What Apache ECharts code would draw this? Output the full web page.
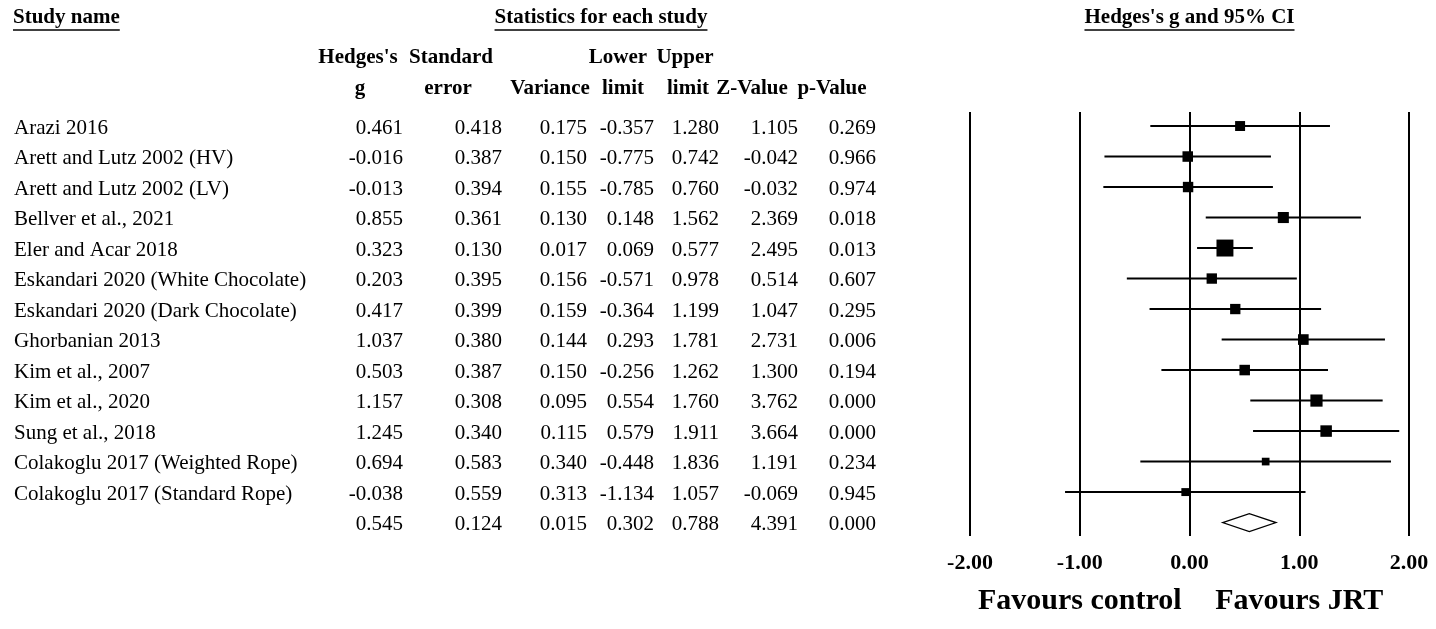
<!DOCTYPE html>
<html>
<head>
<meta charset="utf-8">
<script src="https://cdn.jsdelivr.net/npm/echarts@6/dist/echarts.min.js"></script>
<style>
html,body{margin:0;padding:0;background:#fff;}
#chart{width:1436px;height:629px;}
</style>
</head>
<body>
<div id="chart"></div>
<script>
// ---------------- DATA ----------------
const studyNames = [
  'Arazi 2016',
  'Arett and Lutz 2002 (HV)',
  'Arett and Lutz 2002 (LV)',
  'Bellver et al., 2021',
  'Eler and Acar 2018',
  'Eskandari 2020 (White Chocolate)',
  'Eskandari 2020 (Dark Chocolate)',
  'Ghorbanian 2013',
  'Kim et al., 2007',
  'Kim et al., 2020',
  'Sung et al., 2018',
  'Colakoglu 2017 (Weighted Rope)',
  'Colakoglu 2017 (Standard Rope)'
];
const hedgesG      = [0.461, -0.016, -0.013, 0.855, 0.323, 0.203, 0.417, 1.037, 0.503, 1.157, 1.245, 0.694, -0.038];
const standardError= [0.418, 0.387, 0.394, 0.361, 0.130, 0.395, 0.399, 0.380, 0.387, 0.308, 0.340, 0.583, 0.559];
const variance     = [0.175, 0.150, 0.155, 0.130, 0.017, 0.156, 0.159, 0.144, 0.150, 0.095, 0.115, 0.340, 0.313];
const lowerLimit   = [-0.357, -0.775, -0.785, 0.148, 0.069, -0.571, -0.364, 0.293, -0.256, 0.554, 0.579, -0.448, -1.134];
const upperLimit   = [1.280, 0.742, 0.760, 1.562, 0.577, 0.978, 1.199, 1.781, 1.262, 1.760, 1.911, 1.836, 1.057];
const zValue       = [1.105, -0.042, -0.032, 2.369, 2.495, 0.514, 1.047, 2.731, 1.300, 3.762, 3.664, 1.191, -0.069];
const pValue       = [0.269, 0.966, 0.974, 0.018, 0.013, 0.607, 0.295, 0.006, 0.194, 0.000, 0.000, 0.234, 0.945];
// pooled (random effects) row: g, SE, variance, lower, upper, Z, p
const pooledStats  = [0.545, 0.124, 0.015, 0.302, 0.788, 4.391, 0.000];
const tau2 = 0.0667; // between-study variance used for box weights
const xTickValues = [-2, -1, 0, 1, 2];
const headerTop = [['Hedges\'s', 0], ['Standard', 1], ['Lower', 3], ['Upper', 4]];
const headerBottom = [['g', 0], ['error', 1], ['Variance', 2], ['limit', 3], ['limit', 4], ['Z-Value', 5], ['p-Value', 6]];
const sectionTitles = ['Study name', 'Statistics for each study', 'Hedges\'s g and 95% CI'];
const favourLabels = [['Favours control', -1], ['Favours JRT', 1]];

// ---------------- STYLE / LAYOUT ----------------
const FONT = '"Liberation Serif", "Times New Roman", serif';
const bodyFont = '21px ' + FONT;
const boldFont = 'bold 21px ' + FONT;
const colRight = [403, 502, 587, 654, 719, 798, 876];     // right edges of numeric columns
const colHeadTopX = [358, 451, 550, 618, 685, 752, 832];  // header centres
const colHeadBotX = [360, 448, 550, 623, 688, 752, 832];
const nameX = 14;
const textDy = 2;

const nRows = studyNames.length;
const tableRows = studyNames.map((n, i) => [
  i, hedgesG[i], standardError[i], variance[i], lowerLimit[i], upperLimit[i], zValue[i], pValue[i]
]);
tableRows.push([nRows].concat(pooledStats));

const chart = echarts.init(document.getElementById('chart'), null, {renderer: 'canvas'});

function fmt(v) { return v.toFixed(3); }

const option = {
  backgroundColor: '#fff',
  animation: false,
  grid: {left: 970, right: 27, top: 112, bottom: 93},
  xAxis: {
    type: 'value',
    min: xTickValues[0], max: xTickValues[xTickValues.length - 1], interval: 1,
    axisLine: {show: false}, axisTick: {show: false},
    splitLine: {show: true, lineStyle: {color: '#000', width: 2}},
    axisLabel: {
      formatter: v => v.toFixed(2),
      fontFamily: FONT, fontWeight: 'bold', fontSize: 22, color: '#000', margin: 16
    }
  },
  yAxis: {
    type: 'value', inverse: true, min: -0.46, max: 13.44, show: false,
    splitLine: {show: false}
  },
  series: [
    {
      // study CIs and weight boxes
      type: 'custom',
      coordinateSystem: 'cartesian2d',
      data: studyNames.map((n, i) => [hedgesG[i], i, lowerLimit[i], upperLimit[i], variance[i]]),
      encode: {x: [0, 2, 3], y: 1},
      renderItem: function (params, api) {
        const g = api.value(0), row = api.value(1), lo = api.value(2), hi = api.value(3), v = api.value(4);
        const pL = api.coord([lo, row]);
        const pH = api.coord([hi, row]);
        const pG = api.coord([g, row]);
        const side = 4.9 * Math.sqrt(1 / (v + tau2));
        return {
          type: 'group',
          children: [
            {type: 'line', shape: {x1: pL[0], y1: pL[1], x2: pH[0], y2: pH[1]},
             style: {stroke: '#000', lineWidth: 2}},
            {type: 'rect', shape: {x: pG[0] - side / 2, y: pG[1] - side / 2, width: side, height: side},
             style: {fill: '#000'}}
          ]
        };
      },
      z: 3
    },
    {
      // pooled diamond
      type: 'custom',
      coordinateSystem: 'cartesian2d',
      data: [[pooledStats[0], nRows, pooledStats[3], pooledStats[4]]],
      encode: {x: [0, 2, 3], y: 1},
      renderItem: function (params, api) {
        const g = api.value(0), row = api.value(1), lo = api.value(2), hi = api.value(3);
        const a = api.coord([lo, row]), c = api.coord([g, row]), b = api.coord([hi, row]);
        const h = 9;
        return {
          type: 'polygon',
          shape: {points: [[a[0], a[1]], [c[0], c[1] - h], [b[0], b[1]], [c[0], c[1] + h]]},
          style: {fill: '#fff', stroke: '#000', lineWidth: 1.3}
        };
      },
      z: 3
    },
    {
      // table text, rows placed through the y scale
      type: 'custom',
      coordinateSystem: 'cartesian2d',
      clip: false,
      data: tableRows.map(r => [0].concat(r)),
      encode: {x: 0, y: 1},
      renderItem: function (params, api) {
        const row = api.value(1);
        const y = api.coord([0, row])[1] + textDy;
        const r = tableRows[params.dataIndex];
        const children = [];
        if (row < nRows) {
          children.push({type: 'text', x: nameX, y: y,
            style: {text: studyNames[row], font: bodyFont, fill: '#000', align: 'left', verticalAlign: 'middle'}});
        }
        for (let k = 0; k < 7; k++) {
          children.push({type: 'text', x: colRight[k], y: y,
            style: {text: fmt(r[k + 1]), font: bodyFont, fill: '#000', align: 'right', verticalAlign: 'middle'}});
        }
        return {type: 'group', children: children};
      },
      z: 4
    }
  ]
};
chart.setOption(option);

// ---------- headers (graphic) ----------
const ctx = document.createElement('canvas').getContext('2d');
function textW(font, t) { ctx.font = font; return ctx.measureText(t).width; }

const plotCenter = chart.convertToPixel({gridIndex: 0}, [0, 0])[0];
const titleY = 18, underlineY = 30;
const titleSpecs = [
  {text: sectionTitles[0], x: nameX - 1, align: 'left'},
  {text: sectionTitles[1], x: 601, align: 'center'},
  {text: sectionTitles[2], x: plotCenter, align: 'center'}
];
const graphics = [];
titleSpecs.forEach(t => {
  const w = textW(boldFont, t.text);
  const left = t.align === 'left' ? t.x : t.x - w / 2;
  graphics.push({type: 'text', x: t.x, y: titleY,
    style: {text: t.text, font: boldFont, fill: '#000', align: t.align, verticalAlign: 'middle'}});
  graphics.push({type: 'line', shape: {x1: left, y1: underlineY, x2: left + w, y2: underlineY},
    style: {stroke: '#000', lineWidth: 1.5}});
});
headerTop.forEach(([t, k]) => {
  graphics.push({type: 'text', x: colHeadTopX[k], y: 58,
    style: {text: t, font: boldFont, fill: '#000', align: 'center', verticalAlign: 'middle'}});
});
headerBottom.forEach(([t, k]) => {
  graphics.push({type: 'text', x: colHeadBotX[k], y: 89,
    style: {text: t, font: boldFont, fill: '#000', align: 'center', verticalAlign: 'middle'}});
});
favourLabels.forEach(([t, v]) => {
  const px = chart.convertToPixel({gridIndex: 0}, [v, 0])[0];
  graphics.push({type: 'text', x: px, y: 601,
    style: {text: t, font: 'bold 30px ' + FONT, fill: '#000', align: 'center', verticalAlign: 'middle'}});
});
chart.setOption({graphic: graphics});
</script>
</body>
</html>
